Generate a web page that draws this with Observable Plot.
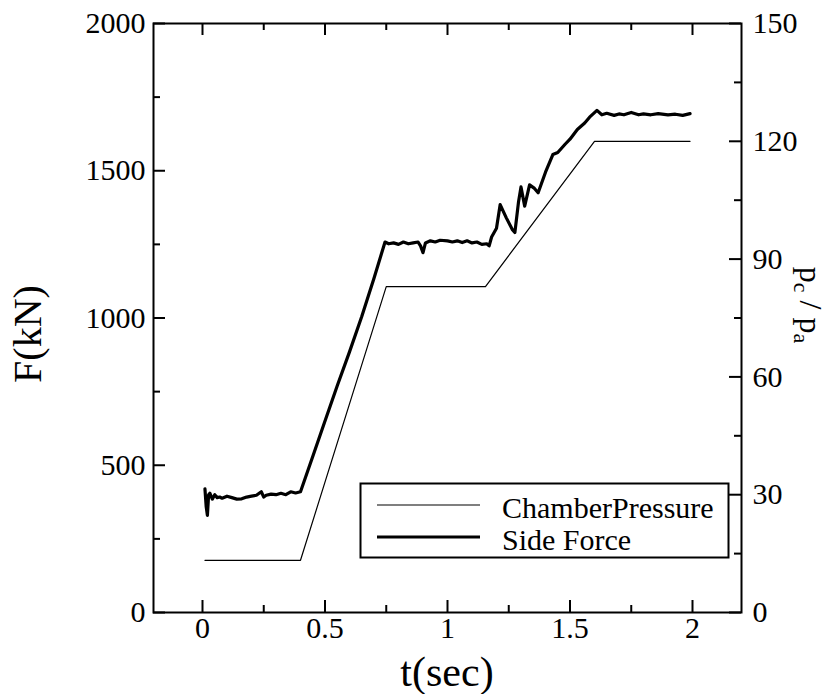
<!DOCTYPE html>
<html><head><meta charset="utf-8">
<script src="https://cdn.jsdelivr.net/npm/d3@7"></script>
<script src="https://cdn.jsdelivr.net/npm/@observablehq/plot@0.6"></script>
<style>body{margin:0;background:#fff}</style>
</head><body><div id="chart"></div>
<script>
// ---- data ----
const sideForceT = [0.01,0.015,0.02,0.025,0.03,0.04,0.05,0.06,0.07,0.08,0.1,0.12,0.14,0.16,0.18,0.2,0.22,0.24,0.25,0.26,0.28,0.3,0.32,0.34,0.36,0.38,0.4,0.45,0.5,0.55,0.6,0.65,0.7,0.745,0.76,0.78,0.8,0.82,0.84,0.86,0.88,0.89,0.9,0.91,0.93,0.95,0.97,1.0,1.02,1.04,1.06,1.08,1.1,1.12,1.14,1.16,1.17,1.18,1.2,1.215,1.24,1.265,1.275,1.29,1.3,1.315,1.335,1.355,1.37,1.4,1.43,1.45,1.48,1.5,1.53,1.56,1.58,1.61,1.63,1.65,1.68,1.7,1.72,1.75,1.78,1.8,1.83,1.86,1.9,1.93,1.96,1.99];
const sideForceF = [420,360,330,400,405,385,400,390,392,388,395,390,385,386,392,395,398,410,392,398,402,400,405,400,410,406,410,530,650,770,885,1005,1135,1258,1252,1255,1250,1258,1252,1255,1258,1245,1222,1255,1262,1258,1264,1262,1258,1262,1256,1262,1255,1258,1250,1252,1245,1275,1305,1385,1340,1300,1290,1395,1445,1380,1452,1440,1425,1495,1555,1562,1590,1607,1640,1662,1682,1705,1690,1695,1688,1693,1690,1698,1690,1693,1690,1694,1690,1692,1688,1694];
const chamberT = [0.01,0.4,0.75,1.155,1.6,1.99];
const chamberP = [13.3,13.3,83,83,120,120];   // pc/pa
const xTicks = [0,0.5,1,1.5,2];
const xMinor = [0.25,0.75,1.25,1.75];
const fTicks = [0,500,1000,1500,2000];
const fMinor = [250,750,1250,1750];
const pTicks = [0,30,60,90,120,150];
const pMinor = [15,45,75,105,135];
const legendLabels = ["ChamberPressure", "Side Force"];
const fMax = 2000, pMax = 150;
const toF = p => p * fMax / pMax;

const sideForce = sideForceT.map((t,i)=>({t, f: sideForceF[i]}));
const chamber = chamberT.map((t,i)=>({t, f: toF(chamberP[i])}));

// ---- layout ----
const W = 830, H = 694, mL = 153, mR = 89, mT = 23, mB = 82;
const PW = W - mL - mR, PH = H - mT - mB;
const major = 12, minor = 7;
const font = "'Liberation Serif', 'Times New Roman', serif";

const chart = Plot.plot({
  width: W, height: H,
  marginLeft: mL, marginRight: mR, marginTop: mT, marginBottom: mB,
  x: {domain: [-0.2, 2.2]},
  y: {domain: [0, fMax]},
  style: `font-family: ${font}; font-size: 30px; color: #000; background: #fff;`,
  marks: [
    Plot.line(chamber, {x: "t", y: "f", stroke: "#000", strokeWidth: 1.2}),
    Plot.line(sideForce, {x: "t", y: "f", stroke: "#000", strokeWidth: 3.2, strokeLinejoin: "round"}),
    Plot.tickY(fTicks, {y: d=>d, insetRight: PW - major, strokeWidth: 2}),
    Plot.tickY(fMinor, {y: d=>d, insetRight: PW - minor, strokeWidth: 2}),
    Plot.tickY(pTicks, {y: d=>toF(d), insetLeft: PW - major, strokeWidth: 2}),
    Plot.tickY(pMinor, {y: d=>toF(d), insetLeft: PW - minor, strokeWidth: 2}),
    Plot.tickX(xTicks, {x: d=>d, insetTop: PH - major, strokeWidth: 2}),
    Plot.tickX(xMinor, {x: d=>d, insetTop: PH - minor, strokeWidth: 2}),
    Plot.tickX(xTicks, {x: d=>d, insetBottom: PH - major, strokeWidth: 2}),
    Plot.tickX(xMinor, {x: d=>d, insetBottom: PH - minor, strokeWidth: 2}),
    Plot.axisY({anchor: "left", ticks: fTicks, tickSize: 0, tickPadding: 8, label: null, tickFormat: d=>String(d)}),
    Plot.axisY({anchor: "right", ticks: pTicks.map(toF), tickSize: 0, tickPadding: 11, label: null, tickFormat: d=>String(Math.round(d*pMax/fMax))}),
    Plot.axisX({ticks: xTicks, tickSize: 0, tickPadding: 4, label: null, tickFormat: d=>String(d)}),
    Plot.frame({stroke: "#000", strokeWidth: 2}),
    Plot.frame({stroke: "#000", strokeWidth: 2, fill: "#fff", insetLeft: 207, insetRight: 13, insetTop: 460, insetBottom: 55})
  ]
});

const svg = d3.select(chart);
const lg = svg.append("g").attr("font-family", font).attr("font-size", 30).attr("fill", "#000").attr("text-anchor", "start");
lg.append("line").attr("x1", 377).attr("x2", 480).attr("y1", 505).attr("y2", 505).attr("stroke", "#000").attr("stroke-width", 1.2);
lg.append("line").attr("x1", 377).attr("x2", 480).attr("y1", 537).attr("y2", 537).attr("stroke", "#000").attr("stroke-width", 3.2);
lg.append("text").attr("x", 502).attr("y", 518).text(legendLabels[0]);
lg.append("text").attr("x", 502).attr("y", 550).text(legendLabels[1]);

svg.append("text").attr("font-family", font).attr("font-size", 42).attr("text-anchor", "middle")
  .attr("x", (mL + W - mR)/2).attr("y", 686).text("t(sec)");
svg.append("text").attr("font-family", font).attr("font-size", 40).attr("text-anchor", "middle")
  .attr("transform", "translate(41,334) rotate(-90)").text("F(kN)");
const rt = svg.append("text").attr("font-family", font).attr("font-size", 32).attr("text-anchor", "middle")
  .attr("transform", "translate(800,305) rotate(90)");
rt.append("tspan").text("p");
rt.append("tspan").attr("font-size", 22).attr("dy", 6).text("c");
rt.append("tspan").attr("dy", -6).text(" / p");
rt.append("tspan").attr("font-size", 22).attr("dy", 6).text("a");

document.getElementById("chart").appendChild(chart);
</script></body></html>
